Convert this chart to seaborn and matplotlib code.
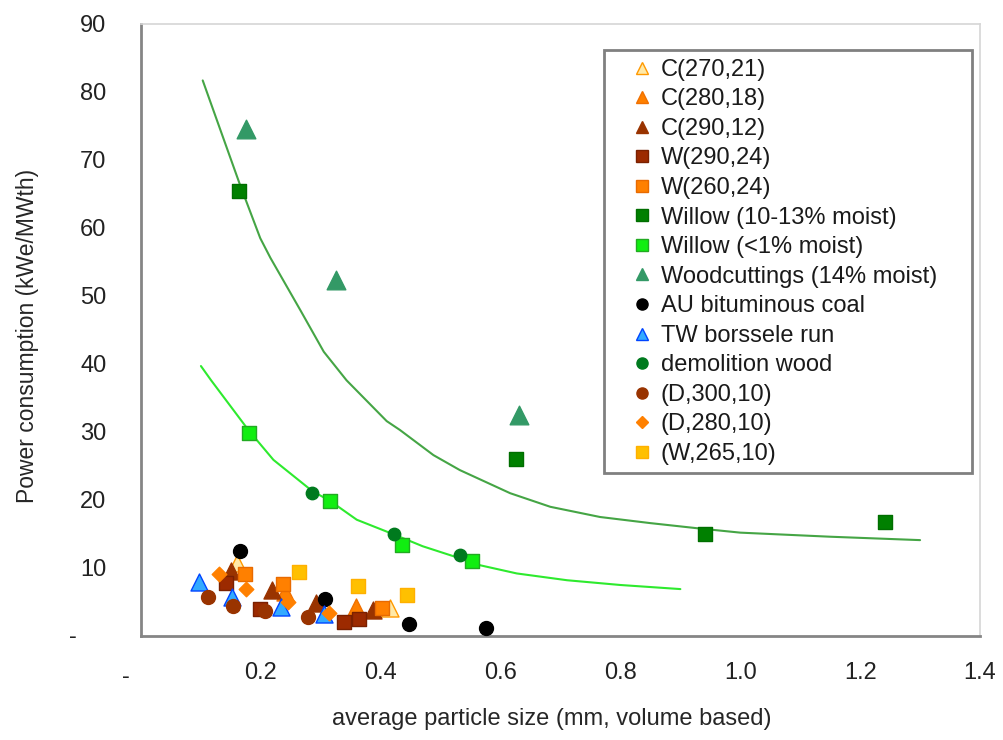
"""Power consumption vs. average particle size for milled fuels."""
import matplotlib
matplotlib.use("Agg")
import matplotlib.pyplot as plt
from matplotlib.lines import Line2D
from matplotlib.patches import Rectangle
import seaborn as sns

# --- data (x: mm, y: kWe/MWth) ---
c270_x = [0.160, 0.416]
c270_y = [10.7, 4.1]
c280_x = [0.240, 0.359]
c280_y = [6.5, 4.3]
c290_x = [0.150, 0.219, 0.292, 0.387]
c290_y = [9.6, 6.7, 4.85, 3.8]
w290_x = [0.142, 0.199, 0.338, 0.363]
w290_y = [7.75, 3.97, 2.0, 2.5]
w260_x = [0.173, 0.237, 0.402]
w260_y = [9.07, 7.6, 4.15]
willow_x = [0.164, 0.626, 0.941, 1.241]
willow_y = [65.4, 26.0, 15.0, 16.8]
willow_dry_x = [0.180, 0.315, 0.436, 0.553]
willow_dry_y = [29.8, 19.85, 13.45, 11.05]
woodcut_x = [0.175, 0.325, 0.631]
woodcut_y = [74.5, 52.3, 32.5]
coal_x = [0.165, 0.307, 0.448, 0.575]
coal_y = [12.5, 5.45, 1.7, 1.13]
tw_x = [0.096, 0.152, 0.233, 0.305]
tw_y = [7.9, 5.7, 4.25, 3.25]
demol_x = [0.286, 0.423, 0.532]
demol_y = [21.1, 15.0, 11.9]
d300_x = [0.112, 0.154, 0.207, 0.278]
d300_y = [5.8, 4.46, 3.7, 2.75]
d280_x = [0.130, 0.175, 0.246, 0.314]
d280_y = [9.07, 6.86, 4.95, 3.45]
w265_x = [0.264, 0.362, 0.444]
w265_y = [9.46, 7.35, 6.1]

# trend lines
trend_wet_x = [0.103, 0.135, 0.165, 0.199, 0.216, 0.266, 0.305, 0.343, 0.41, 0.432,
               0.488, 0.532, 0.616, 0.683, 0.766, 0.85, 0.933, 1.0, 1.15, 1.30]
trend_wet_y = [81.7, 73.8, 66.4, 58.5, 55.6, 47.9, 41.8, 37.6, 31.6, 30.3,
               26.6, 24.4, 21.0, 19.0, 17.5, 16.6, 15.8, 15.2, 14.6, 14.1]
trend_dry_x = [0.10, 0.117, 0.18, 0.221, 0.286, 0.315, 0.36, 0.423, 0.47, 0.533,
               0.566, 0.627, 0.711, 0.80, 0.90]
trend_dry_y = [39.7, 37.6, 30.2, 25.9, 21.3, 19.9, 17.1, 14.9, 13.2, 11.4,
               10.4, 9.2, 8.2, 7.5, 6.9]

x_ticks = [0.0, 0.2, 0.4, 0.6, 0.8, 1.0, 1.2, 1.4]
x_labels = ["", "0.2", "0.4", "0.6", "0.8", "1.0", "1.2", "1.4"]
y_ticks = [0, 10, 20, 30, 40, 50, 60, 70, 80, 90]
y_labels = ["", "10", "20", "30", "40", "50", "60", "70", "80", "90"]

# label, x, y, marker, face, edge, size
series = [
    ("C(270,21)", c270_x, c270_y, "^", "#FFE9A8", "#FF9900", 150),
    ("C(280,18)", c280_x, c280_y, "^", "#FF8000", "#F07000", 150),
    ("C(290,12)", c290_x, c290_y, "^", "#993300", "#993300", 150),
    ("W(290,24)", w290_x, w290_y, "s", "#9C2A00", "#7A2000", 100),
    ("W(260,24)", w260_x, w260_y, "s", "#FF8000", "#E86A00", 100),
    ("Willow (10-13% moist)", willow_x, willow_y, "s", "#008000", "#006E00", 100),
    ("Willow (<1% moist)", willow_dry_x, willow_dry_y, "s", "#11EE11", "#22AA22", 100),
    ("Woodcuttings (14% moist)", woodcut_x, woodcut_y, "^", "#339966", "#339966", 180),
    ("AU bituminous coal", coal_x, coal_y, "o", "#000000", "#000000", 100),
    ("TW borssele run", tw_x, tw_y, "^", "#33AAFF", "#0044FF", 150),
    ("demolition wood", demol_x, demol_y, "o", "#007A1E", "#007A1E", 80),
    ("(D,300,10)", d300_x, d300_y, "o", "#993300", "#993300", 100),
    ("(D,280,10)", d280_x, d280_y, "D", "#FF8000", "#FF8000", 55),
    ("(W,265,10)", w265_x, w265_y, "s", "#FFC000", "#FFB000", 100),
]

sns.set_style("white")
plt.rcParams["font.family"] = ["Liberation Sans", "DejaVu Sans"]
plt.rcParams["text.color"] = "#1a1a1a"

W, H = 1004, 740
fig = plt.figure(figsize=(W / 100, H / 100), dpi=100)
ax = fig.add_axes([141 / W, 1 - 636 / H, (980 - 141) / W, (636 - 24) / H])

sns.lineplot(x=trend_wet_x, y=trend_wet_y, sort=False, estimator=None,
             color="#45A545", lw=1.5, ax=ax, zorder=2)
sns.lineplot(x=trend_dry_x, y=trend_dry_y, sort=False, estimator=None,
             color="#2EEA2E", lw=1.5, ax=ax, zorder=2)

handles = []
for i, (label, xs, ys, marker, face, edge, size) in enumerate(series):
    sns.scatterplot(x=xs, y=ys, marker=marker, color=face, edgecolor=edge,
                    s=size, linewidth=1, ax=ax, zorder=3 + i)
    handles.append(Line2D([], [], ls="none", marker=marker, markersize=8 if marker != "D" else 6,
                          markerfacecolor=face, markeredgecolor=edge, label=label))

ax.set_xlim(0, 1.4)
ax.set_ylim(0, 90)
ax.set_xticks(x_ticks, x_labels)
ax.set_yticks(y_ticks, y_labels)
ax.tick_params(axis="both", direction="out", length=7, width=1.5, color="#808080",
               labelsize=17, labelcolor="#222222")
ax.tick_params(axis="x", pad=12)
ax.tick_params(axis="y", pad=18)

for side in ("left", "bottom"):
    ax.spines[side].set_color("#858585")
    ax.spines[side].set_linewidth(2)
for side in ("top", "right"):
    ax.spines[side].set_color("#D6D6D6")
    ax.spines[side].set_linewidth(1.2)

# zero labels shown as dashes (accounting style)
fig.text(73 / W, 1 - 637 / H, "-", ha="center", va="center", fontsize=17, color="#222222")
fig.text(126 / W, 1 - 677 / H, "-", ha="center", va="center", fontsize=17, color="#222222")

ax.set_xlabel("average particle size (mm, volume based)", fontsize=17)
ax.set_ylabel("Power consumption (kWe/MWth)", fontsize=16.5)
ax.xaxis.set_label_coords(0.49, -0.117)
ax.yaxis.set_label_coords(-0.122, 0.49)

fig.legend(handles=handles, loc="upper left", bbox_to_anchor=(622 / W, 1 - 47 / H),
           frameon=False, fontsize=17, borderpad=0, handlelength=0.7,
           handletextpad=0.45, labelspacing=0.32)
fig.add_artist(Rectangle((604 / W, 1 - 473 / H), (972 - 604) / W, (473 - 50) / H,
                         transform=fig.transFigure, fill=False,
                         edgecolor="#808080", lw=2))

fig.savefig("out.png", dpi=100)
